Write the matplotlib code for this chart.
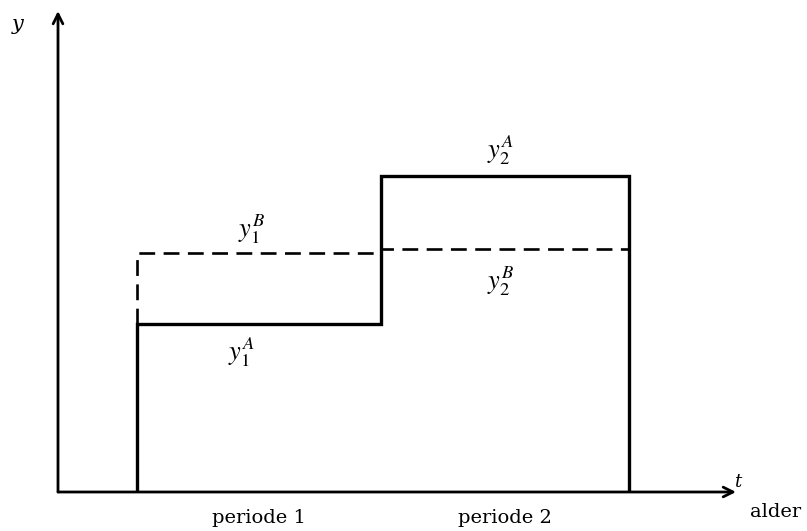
import matplotlib.pyplot as plt

plt.rcParams['font.family'] = 'DejaVu Serif'
plt.rcParams['mathtext.fontset'] = 'stix'

# period boundaries along the age axis (origin at the y axis)
edges = [79, 323, 571]
# income path A (solid) and path B (dashed) in each period
y_A = [168, 316]
y_B = [239, 243]
period_labels = ['periode 1', 'periode 2']
labels_A = [r'$y_1^A$', r'$y_2^A$']
labels_B = [r'$y_1^B$', r'$y_2^B$']

fig = plt.figure(figsize=(8.07, 5.31), dpi=100)
ax = fig.add_axes([0, 0, 1, 1])
ax.set_xlim(-58, 749)
ax.set_ylim(-39, 492)
ax.axis('off')

# axes with arrows
arrow = dict(arrowstyle='->,head_length=0.7,head_width=0.35', color='k', lw=2,
             shrinkA=0, shrinkB=0)
ax.annotate('', xy=(678, 0), xytext=(0, 0), arrowprops=arrow)
ax.annotate('', xy=(0, 481), xytext=(0, 0), arrowprops=arrow)
ax.text(-40, 468, 'y', fontsize=15, style='italic', ha='center', va='center')
ax.text(680, 10, 't', fontsize=13, style='italic', ha='center', va='center')
ax.text(718, -20, 'alder', fontsize=14, ha='center', va='center')

# path A: solid outline
ax.stairs(y_A, edges, baseline=0, color='k', lw=2.4)

# path B: dashed
xs = [edges[0], edges[0], edges[1], edges[1], edges[2]]
ys = [y_A[0], y_B[0], y_B[0], y_B[1], y_B[1]]
ax.plot(xs, ys, color='k', lw=1.9, dashes=(6, 3.2))

for i in range(2):
    mid = (edges[i] + edges[i + 1]) / 2
    ax.text(mid, -26, period_labels[i], fontsize=14, ha='center', va='center')

ax.text(183, y_A[0] - 28, labels_A[0], fontsize=19, ha='center', va='center')
ax.text(442, y_A[1] + 26, labels_A[1], fontsize=19, ha='center', va='center')
ax.text(193, y_B[0] + 24, labels_B[0], fontsize=19, ha='center', va='center')
ax.text(442, y_B[1] - 32, labels_B[1], fontsize=19, ha='center', va='center')

fig.savefig('out.png', dpi=100)
